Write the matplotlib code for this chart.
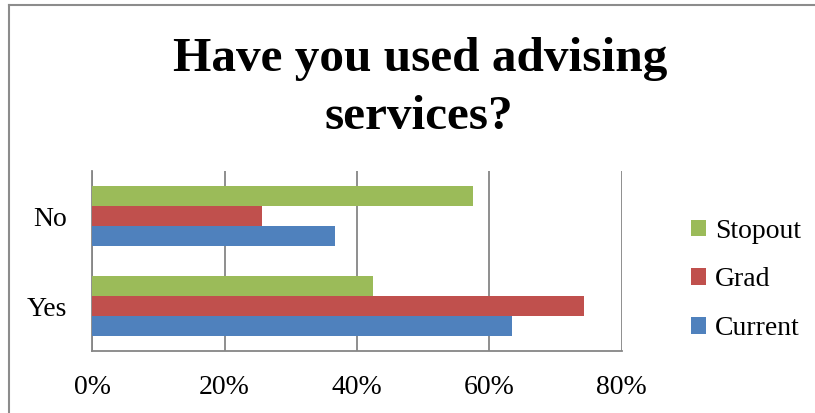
import matplotlib
matplotlib.use("Agg")
import matplotlib.pyplot as plt
import matplotlib.ticker as mticker
from matplotlib.lines import Line2D
import numpy as np

# ---- data ----
categories = ["Yes", "No"]
series_names = ["Current", "Grad", "Stopout"]
current_pct = [63.4, 36.6]
grad_pct = [74.3, 25.7]
stopout_pct = [42.4, 57.6]
x_ticks = [0, 20, 40, 60, 80]
title_lines = ["Have you used advising", "services?"]

colors = ["#4F81BD", "#C0504D", "#9BBB59"]
grid_grey = "#868686"

plt.rcParams["font.family"] = ["Liberation Serif", "DejaVu Serif"]

fig = plt.figure(figsize=(8.15, 4.13), dpi=100)
ax = fig.add_axes([92.3 / 815, 1 - 351 / 413, (621.7 - 92.3) / 815, 180 / 413])

# ---- bars ----
y = np.arange(len(categories))
bar_h = 0.222
for i, (name, vals) in enumerate(zip(series_names, [current_pct, grad_pct, stopout_pct])):
    ax.barh(y + (i - 1) * bar_h, vals, height=bar_h, color=colors[i],
            edgecolor="none", label=name, zorder=3)

ax.set_xlim(0, 80)
ax.set_ylim(-0.5, 1.5)
ax.set_xticks(x_ticks)
ax.xaxis.set_major_formatter(mticker.FormatStrFormatter("%d%%"))
ax.set_yticks(y)
ax.set_yticklabels(categories)
ax.tick_params(axis="x", length=0, pad=17, labelsize=20)
ax.tick_params(axis="y", length=0, pad=18, labelsize=20)

ax.grid(axis="x", color=grid_grey, linewidth=1.3, zorder=0)
for side in ["top", "right"]:
    ax.spines[side].set_visible(False)
for side in ["left", "bottom"]:
    ax.spines[side].set_color(grid_grey)
    ax.spines[side].set_linewidth(1.3)

# ---- legend (Stopout on top) ----
handles, labels = ax.get_legend_handles_labels()
fig.legend(handles[::-1], labels[::-1], loc="center left",
           bbox_to_anchor=(680 / 815, 1 - 280 / 413), frameon=False,
           fontsize=20, handlelength=0.55, handleheight=0.55,
           handletextpad=0.3, labelspacing=0.85, borderaxespad=0)

# ---- title ----
fig.text(420 / 815, 1 - 71 / 413, title_lines[0], ha="center", va="baseline",
         fontsize=35.5, fontweight="bold")
fig.text(419 / 815, 1 - 129 / 413, title_lines[1], ha="center", va="baseline",
         fontsize=35.5, fontweight="bold")

# ---- chart-area border (only top and left edges visible) ----
fig.add_artist(Line2D([9 / 815, 1.0], [1 - 5 / 413, 1 - 5 / 413],
                      transform=fig.transFigure, color="#8c8c8c", linewidth=1.5))
fig.add_artist(Line2D([9 / 815, 9 / 815], [0.0, 1 - 5 / 413],
                      transform=fig.transFigure, color="#8c8c8c", linewidth=1.5))

fig.savefig("out.png", dpi=100)
